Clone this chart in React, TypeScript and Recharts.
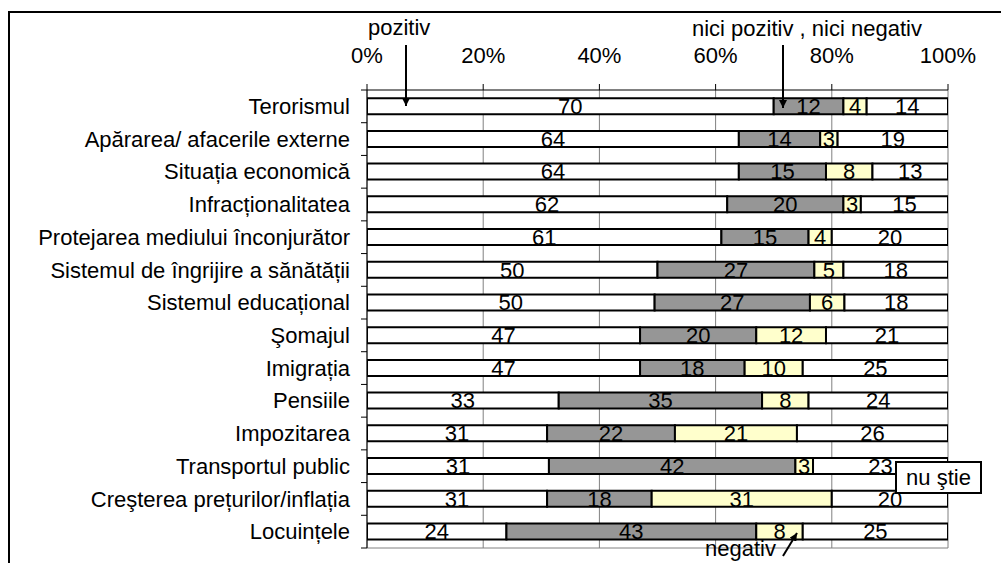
import React from 'react';
import { BarChart, Bar, XAxis, YAxis, CartesianGrid, LabelList } from 'recharts';

const categories = [
  'Terorismul',
  'Apărarea/ afacerile externe',
  'Situația economică',
  'Infracționalitatea',
  'Protejarea mediului înconjurător',
  'Sistemul de îngrijire a sănătății',
  'Sistemul educațional',
  'Şomajul',
  'Imigrația',
  'Pensiile',
  'Impozitarea',
  'Transportul public',
  'Creşterea prețurilor/inflația',
  'Locuințele',
];
const pozitiv = [70, 64, 64, 62, 61, 50, 50, 47, 47, 33, 31, 31, 31, 24];
const neutru = [12, 14, 15, 20, 15, 27, 27, 20, 18, 35, 22, 42, 18, 43];
const negativ = [4, 3, 8, 3, 4, 5, 6, 12, 10, 8, 21, 3, 31, 8];
const nuStie = [14, 19, 13, 15, 20, 18, 18, 21, 25, 24, 26, 23, 20, 25];
const percentTicks = [0, 20, 40, 60, 80, 100];

// 100% stacked, like Excel: each row is scaled to its own total
const data = categories.map((name, i) => {
  const total = pozitiv[i] + neutru[i] + negativ[i] + nuStie[i];
  return {
    name,
    pozitiv: (pozitiv[i] / total) * 100,
    neutru: (neutru[i] / total) * 100,
    negativ: (negativ[i] / total) * 100,
    nuStie: (nuStie[i] / total) * 100,
    pozitivRaw: pozitiv[i],
    neutruRaw: neutru[i],
    negativRaw: negativ[i],
    nuStieRaw: nuStie[i],
  };
});

const FONT = '"Liberation Sans", Arial, sans-serif';
const FS = 22;
const PLOT_H = 458;
const BAND = PLOT_H / categories.length;

const CategoryTick = (props: any) => {
  const { x, y, payload } = props;
  const idx = props.index ?? payload.index;
  const axisX = x + 17;
  return (
    <g>
      <line x1={axisX - 6} x2={axisX} y1={y - BAND / 2} y2={y - BAND / 2} stroke="#000" />
      {idx === categories.length - 1 && (
        <line x1={axisX - 6} x2={axisX} y1={y + BAND / 2} y2={y + BAND / 2} stroke="#000" />
      )}
      <text x={x} y={y} dy="0.35em" textAnchor="end" fontSize={FS} fontFamily={FONT} fill="#000">
        {payload.value}
      </text>
    </g>
  );
};

const labelStyle = { fontSize: FS, fontFamily: FONT, fill: '#000' };

export default function App() {
  return (
    <div style={{ position: 'absolute', left: 0, top: 0, width: 1001, height: 563, overflow: 'hidden', background: '#fff' }}>
      <div
        style={{
          position: 'absolute',
          left: 8,
          top: 11,
          width: 1100,
          height: 700,
          borderLeft: '2px solid #000',
          borderTop: '2px solid #000',
        }}
      />
      <div style={{ position: 'absolute', left: 0, top: 0 }}>
        <BarChart
          width={1001}
          height={563}
          data={data}
          layout="vertical"
          barCategoryGap="25%"
          margin={{ top: 60, right: 53, bottom: 15, left: 7 }}
        >
          <CartesianGrid
            stroke="#808080"
            vertical
            horizontalCoordinatesGenerator={({ offset }: any) => [offset.top + offset.height]}
          />
          <XAxis
            type="number"
            orientation="top"
            domain={[0, 100]}
            allowDataOverflow
            ticks={percentTicks}
            tickFormatter={(v: number) => `${v}%`}
            height={30}
            tickSize={6}
            tickMargin={21}
            axisLine={{ stroke: '#000' }}
            tickLine={{ stroke: '#000' }}
            tick={{ fontSize: FS, fontFamily: FONT, fill: '#000' }}
          />
          <YAxis
            type="category"
            dataKey="name"
            width={360}
            tickSize={0}
            tickMargin={17}
            tickLine={false}
            axisLine={{ stroke: '#000' }}
            interval={0}
            tick={<CategoryTick />}
          />
          <Bar dataKey="pozitiv" stackId="a" fill="#ffffff" stroke="#000" strokeWidth={2} isAnimationActive={false}>
            <LabelList dataKey="pozitivRaw" position="center" style={labelStyle} />
          </Bar>
          <Bar dataKey="neutru" stackId="a" fill="#969696" stroke="#000" strokeWidth={2} isAnimationActive={false}>
            <LabelList dataKey="neutruRaw" position="center" style={labelStyle} />
          </Bar>
          <Bar dataKey="negativ" stackId="a" fill="#ffffcc" stroke="#000" strokeWidth={2} isAnimationActive={false}>
            <LabelList dataKey="negativRaw" position="center" style={labelStyle} />
          </Bar>
          <Bar dataKey="nuStie" stackId="a" fill="#ffffff" stroke="#000" strokeWidth={2} isAnimationActive={false}>
            <LabelList dataKey="nuStieRaw" position="center" style={labelStyle} />
          </Bar>
        </BarChart>
      </div>
      <svg
        width={1001}
        height={563}
        style={{ position: 'absolute', left: 0, top: 0, pointerEvents: 'none' }}
        fontFamily={FONT}
        fontSize={FS}
      >
        <defs>
          <marker id="head" viewBox="0 0 10 10" refX="10" refY="5" markerWidth="4" markerHeight="4" orient="auto">
            <path d="M0,0 L10,5 L0,10 z" fill="#000" />
          </marker>
        </defs>
        <text x={368} y={35} fill="#000">pozitiv</text>
        <line x1={406} y1={45} x2={406} y2={106} stroke="#000" strokeWidth={2} markerEnd="url(#head)" />
        <text x={692} y={36} fill="#000">nici pozitiv , nici negativ</text>
        <line x1={783} y1={45} x2={783} y2={108} stroke="#000" strokeWidth={2} markerEnd="url(#head)" />
        <text x={705} y={556} fill="#000">negativ</text>
        <line x1={783} y1={556} x2={797} y2={533} stroke="#000" strokeWidth={2} markerEnd="url(#head)" />
        <rect x={896} y={462} width={85} height={31} fill="#fff" stroke="#000" strokeWidth={2} />
        <text x={938.5} y={485} textAnchor="middle" fill="#000">nu ştie</text>
      </svg>
    </div>
  );
}
